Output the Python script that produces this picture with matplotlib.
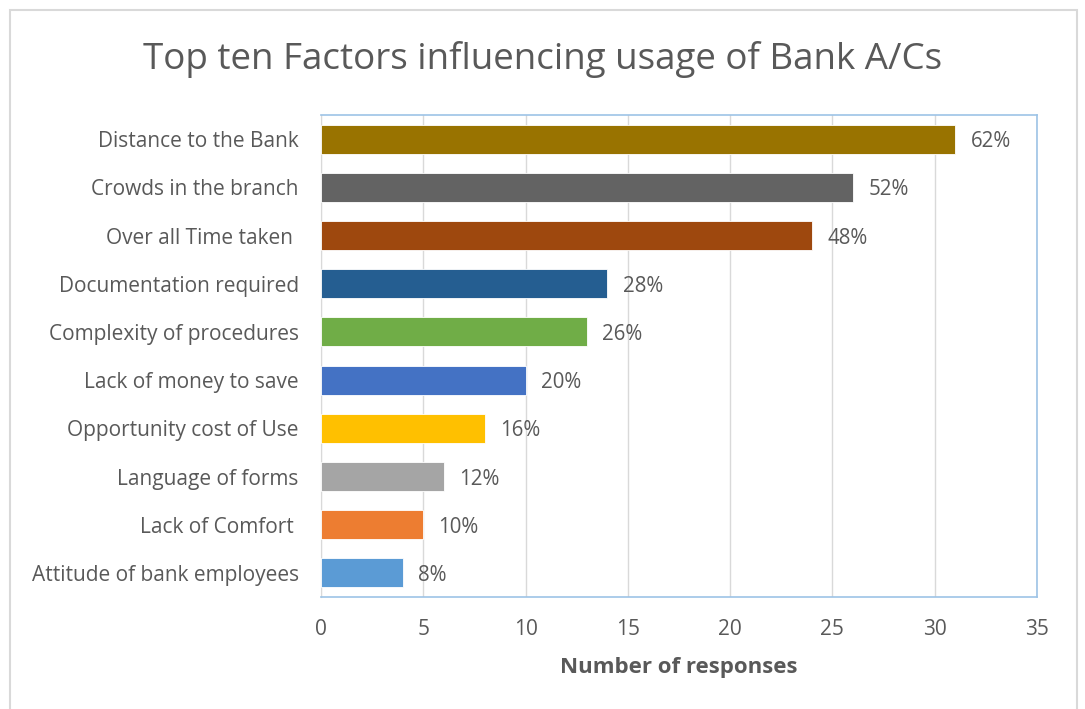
import matplotlib
matplotlib.use("Agg")
import matplotlib.pyplot as plt
from matplotlib.patches import Rectangle

categories = ["Distance to the Bank", "Crowds in the branch", "Over all Time taken ",
              "Documentation required", "Complexity of procedures", "Lack of money to save",
              "Opportunity cost of Use", "Language of forms", "Lack of Comfort ",
              "Attitude of bank employees"]
responses = [31, 26, 24, 14, 13, 10, 8, 6, 5, 4]
pct_labels = ["62%", "52%", "48%", "28%", "26%", "20%", "16%", "12%", "10%", "8%"]
colors = ["#997300", "#636363", "#9E480E", "#255E91", "#70AD47", "#4472C4",
          "#FFC000", "#A5A5A5", "#ED7D31", "#5B9BD5"]
xticks = [0, 5, 10, 15, 20, 25, 30, 35]

plt.rcParams['font.family'] = ['Open Sans', 'DejaVu Sans']
txt = "#595959"

W, H = 1085, 709
fig = plt.figure(figsize=(W / 100, H / 100), dpi=100)
ax = fig.add_axes([321 / W, 1 - 597 / H, (1037 - 321) / W, (597 - 115) / H])

y = list(range(len(categories)))
ax.barh(y, responses, height=0.6, color=colors, edgecolor="white", linewidth=0.6, zorder=3)
for yi, v, lab in zip(y, responses, pct_labels):
    ax.annotate(lab, (v, yi), xytext=(11, 0), textcoords="offset points",
                va="center_baseline", ha="left", fontsize=14.8, color=txt)

ax.set_ylim(len(categories) - 0.5, -0.5)
ax.set_xlim(0, 35)
ax.set_xticks(xticks)
ax.set_yticks(y)
ax.set_yticklabels(categories)
ax.tick_params(axis="both", length=0, labelsize=15, colors=txt)
ax.tick_params(axis="x", pad=16)
ax.tick_params(axis="y", pad=16)
ax.grid(axis="x", color="#D9D9D9", linewidth=1, zorder=0)
for s in ["top", "right", "bottom"]:
    ax.spines[s].set_color("#9DC3E6")
    ax.spines[s].set_linewidth(1.2)
ax.spines["left"].set_color("#D9D9D9")
ax.set_xlabel("Number of responses", fontsize=16, fontweight="bold", color=txt, labelpad=12)

fig.text(543 / W, 1 - 60 / H, "Top ten Factors influencing usage of Bank A/Cs",
         ha="center", va="center", fontsize=26.5, color=txt)

fig.patches.append(Rectangle((10 / W, -0.05), (1077 - 10) / W, 1 - 10 / H + 0.05,
                             transform=fig.transFigure, fill=False,
                             edgecolor="#D9D9D9", linewidth=1.5))

fig.savefig("out.png", dpi=100)
